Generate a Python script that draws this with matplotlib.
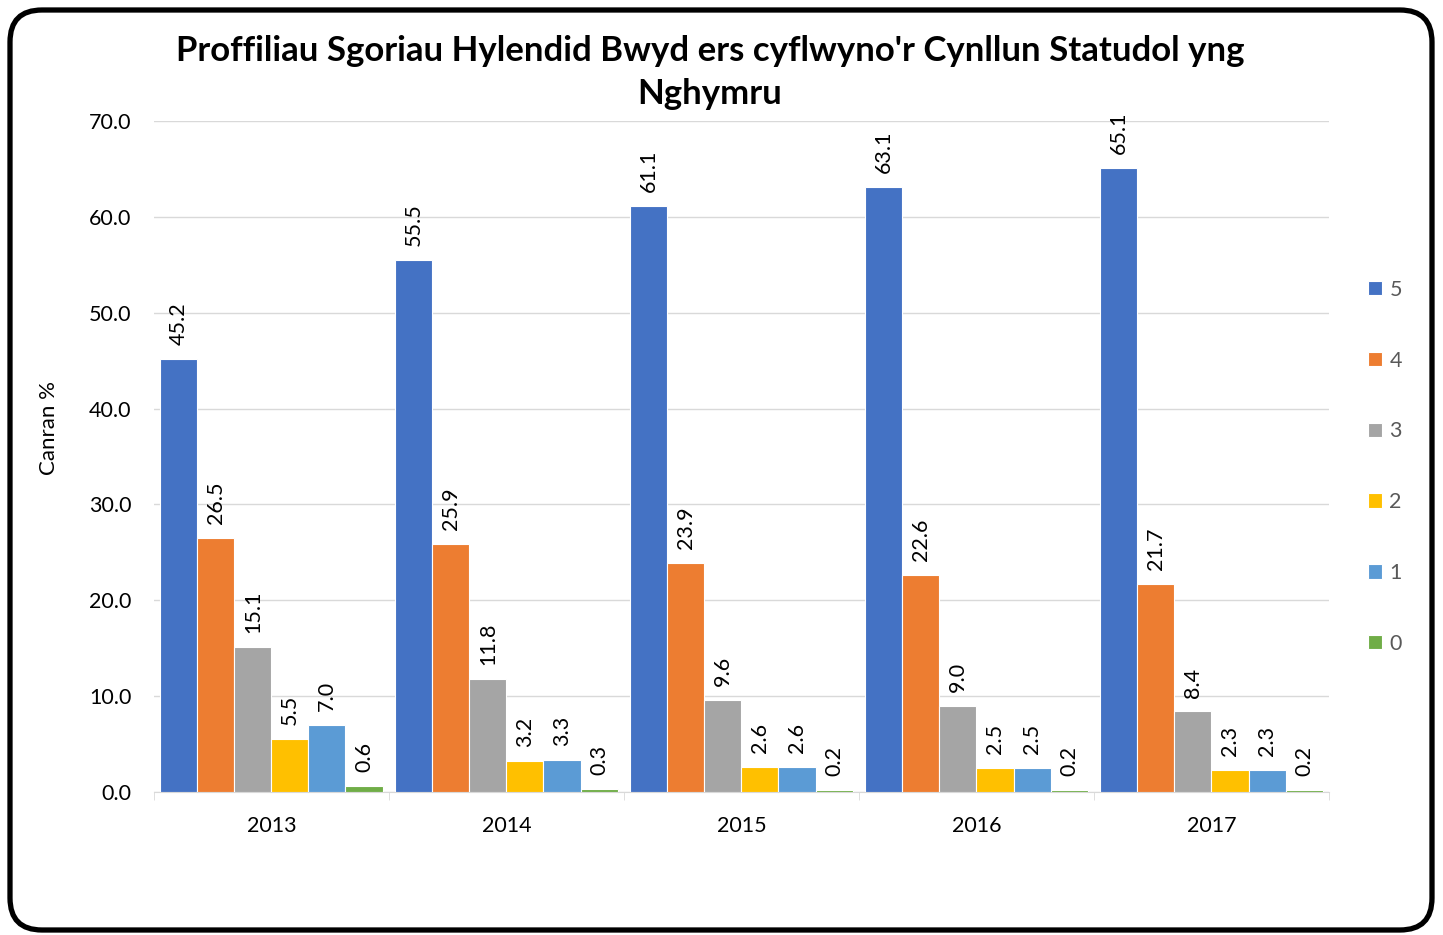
import matplotlib.pyplot as plt
from matplotlib.patches import FancyBboxPatch
import numpy as np

years = ["2013", "2014", "2015", "2016", "2017"]
scores = ["5", "4", "3", "2", "1", "0"]
sc5 = [45.2, 55.5, 61.1, 63.1, 65.1]
sc4 = [26.5, 25.9, 23.9, 22.6, 21.7]
sc3 = [15.1, 11.8, 9.6, 9.0, 8.4]
sc2 = [5.5, 3.2, 2.6, 2.5, 2.3]
sc1 = [7.0, 3.3, 2.6, 2.5, 2.3]
sc0 = [0.6, 0.3, 0.2, 0.2, 0.2]
colours = ["#4472C4", "#ED7D31", "#A5A5A5", "#FFC000", "#5B9BD5", "#70AD47"]

plt.rcParams['font.family'] = ['Lato', 'DejaVu Sans']

fig = plt.figure(figsize=(14.43, 9.35), dpi=100)
ax = fig.add_axes([0.1067, 0.153, 0.8143, 0.7176])

x = np.arange(len(years))
w = 0.1575
series = [sc5, sc4, sc3, sc2, sc1, sc0]
for i, vals in enumerate(series):
    pos = x - 2.5 * w + i * w
    ax.bar(pos, vals, width=w, color=colours[i], edgecolor="white",
           linewidth=0.8, label=scores[i], zorder=3)
    for xp, v in zip(pos, vals):
        ax.annotate(f"{v:.1f}", (xp, v), xytext=(0, 10), textcoords="offset points",
                    rotation=90, ha="center", va="bottom", fontsize=15.5, color="black")

ax.set_xlim(-0.5, 4.5)
ax.set_ylim(0, 70)
ax.set_yticks(np.arange(0, 71, 10))
ax.set_yticklabels([f"{t:.1f}" for t in np.arange(0, 71, 10)], fontsize=15.5)
ax.set_xticks(x)
ax.set_xticklabels(years, fontsize=15.5)
ax.set_xticks(np.arange(-0.5, 5, 1), minor=True)
ax.tick_params(axis="x", which="major", length=0, pad=17)
ax.tick_params(axis="x", which="minor", length=6, color="#D9D9D9")
ax.tick_params(axis="y", length=0, pad=16)
ax.grid(axis="y", color="#D9D9D9", linewidth=1, zorder=0)
for s in ["top", "right", "left"]:
    ax.spines[s].set_visible(False)
ax.spines["bottom"].set_color("#D9D9D9")
ax.set_ylabel("Canran %", fontsize=16)
ax.yaxis.set_label_coords(-0.081, 0.542)

fig.suptitle("Proffiliau Sgoriau Hylendid Bwyd ers cyflwyno'r Cynllun Statudol yng\nNghymru",
             x=0.492, fontsize=25, fontweight="bold", y=0.963, va="top", linespacing=1.45)

leg = fig.legend(loc="upper left", bbox_to_anchor=(0.942, 0.71), frameon=False,
                 fontsize=15.5, handlelength=0.65, handleheight=0.65, labelspacing=2.36,
                 handletextpad=0.35, borderaxespad=0)
for t in leg.get_texts():
    t.set_color("#595959")

border = FancyBboxPatch((0.1, 0.05), 14.22, 9.2, boxstyle="round,pad=0,rounding_size=0.32",
                        transform=fig.dpi_scale_trans, fill=False, edgecolor="black",
                        linewidth=3.8, clip_on=False)
fig.patches.append(border)

fig.savefig("out.png", dpi=100)
